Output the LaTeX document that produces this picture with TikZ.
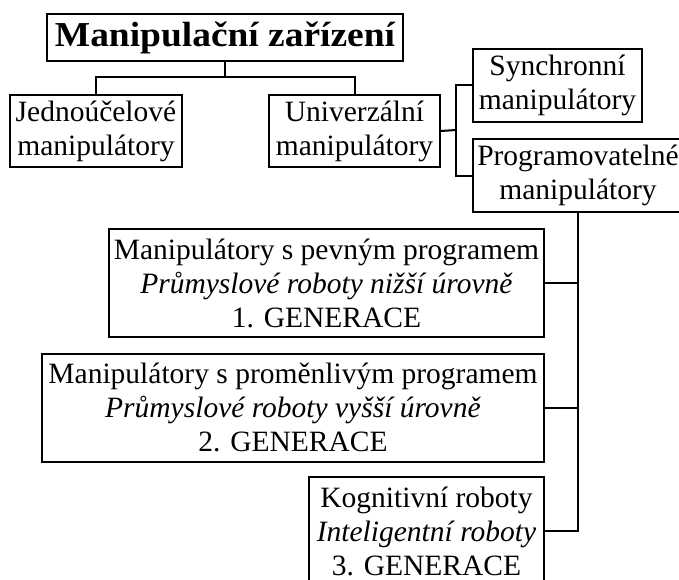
\documentclass[tikz,border=0pt]{standalone}
\usepackage{fontspec}
\setmainfont{Liberation Serif}[BoldFeatures={FakeStretch=1.07}]

\begin{document}
\begin{tikzpicture}[x=1pt, y=-1pt,
    block/.style={rectangle, draw=black, line width=2pt, align=center, inner sep=0pt, font=\fontsize{29.5}{34}\selectfont},
    headblock/.style={block, font=\fontsize{35}{40}\selectfont\bfseries},
    link/.style={draw=black, line width=2pt}
    ]
    \clip (0,0) rectangle (679,580);
    
    % top of the tree
    \node[headblock, minimum width=356, minimum height=47] (zarizeni) at (225,38) {Manipulační zařízení};
    \node[block, minimum width=172, minimum height=72] (jednoucel) at (96,131) {Jednoúčelové\\manipulátory};
    \node[block, minimum width=171, minimum height=72] (univerzal) at (354.5,131) {Univerzální\\manipulátory};
    \node[block, minimum width=169, minimum height=73] (synchron) at (557.5,85.5) {Synchronní\\manipulátory};
    \node[block, minimum width=210, minimum height=73] (program) at (578,175.5) {Programovatelné\\manipulátory};
    
    % generations, right edges aligned
    \node[block, anchor=east, minimum width=435, minimum height=108] (gen1) at (545,283)
        {Manipulátory s pevným programem\\\textit{Průmyslové roboty nižší úrovně}\\1. GENERACE};
    \node[block, anchor=east, minimum width=502, minimum height=108] (gen2) at (545,407.5)
        {Manipulátory s proměnlivým programem\\\textit{Průmyslové roboty vyšší úrovně}\\2. GENERACE};
    \node[block, anchor=east, minimum width=235, minimum height=108] (gen3) at (545,531)
        {Kognitivní roboty\\\textit{Inteligentní roboty}\\3. GENERACE};
    
    \coordinate (split) at (225,77);
    \coordinate (fork) at (456,130);
    
    \draw[link] (zarizeni.south) -- (split);
    \draw[link] (jednoucel.north) |- (split) -| (univerzal.north);
    \draw[link] (univerzal.east) -- (fork);
    \draw[link] (synchron.west) -| (fork) |- (program.west);
    \draw[link] (program.south) |- (gen3.east);
    \foreach \g in {gen1,gen2} {
        \draw[link] (\g.east) -- (\g.east -| program.south);
    }
\end{tikzpicture}
\end{document}
